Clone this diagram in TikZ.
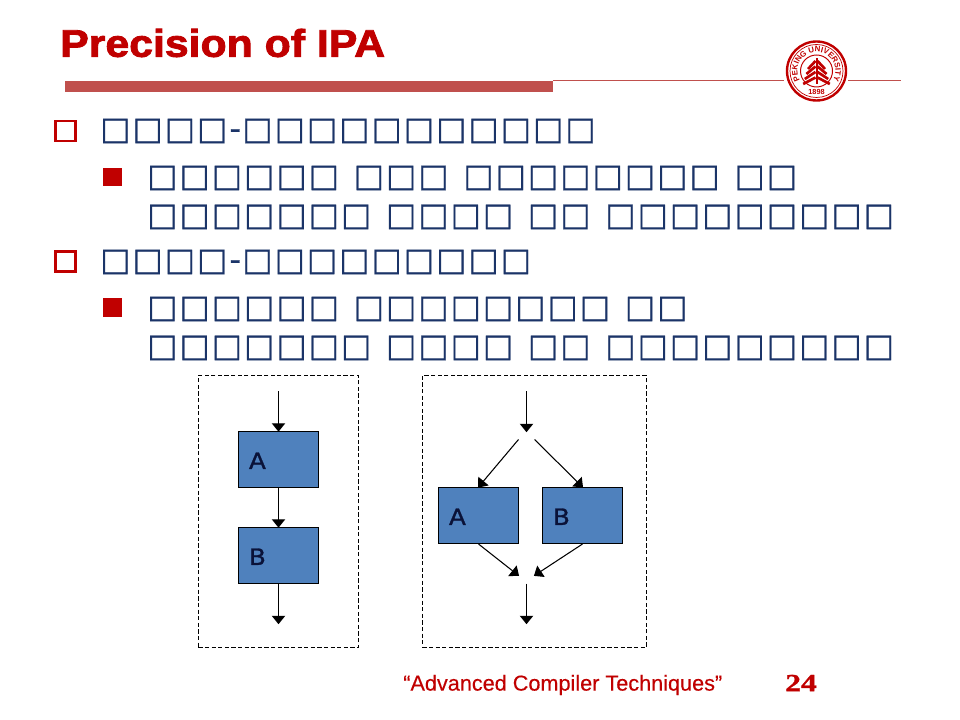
\documentclass[tikz,border=0pt]{standalone}
\usepackage{fontspec}
\setmainfont[BoldFeatures={FakeBold=2.2,FakeStretch=1.11}]{Liberation Sans}
\newfontfamily\sealfont{Liberation Sans Bold}
\newfontfamily\footfont[FakeBold=0.3]{Liberation Sans}
\newfontfamily\seriffont[FakeBold=1.2,FakeStretch=1.28]{Liberation Serif Bold}
\newfontfamily\blockfont[FakeBold=1.2,FakeStretch=1.1]{DejaVu Sans}
\newfontfamily\tofufont[LetterSpace=6.7,WordSpace=1.21,FakeBold=0.6]{DejaVu Sans}
\usetikzlibrary{arrows.meta,decorations.text}

\definecolor{slidered}{HTML}{C00000}
\definecolor{barred}{HTML}{C0504D}
\definecolor{slidenavy}{HTML}{1B3468}
\definecolor{blockblue}{HTML}{4F81BD}
\definecolor{labelnavy}{HTML}{0A1238}

\tikzset{
    tofu/.style={anchor=north west,inner sep=0pt,align=left,text=slidenavy,
        font=\tofufont\fontsize{22.7}{27.7}\selectfont},
    holebullet/.style={draw=slidered,line width=1.9pt,minimum size=14.3pt,inner sep=0pt},
    fullbullet/.style={fill=slidered,minimum size=13pt,inner sep=0pt},
    blockbox/.style={draw=black,fill=blockblue,line width=0.75pt,minimum width=56.9pt,minimum height=39.8pt,
        inner sep=0pt,text width=42pt,align=left,text height=13.4pt,text depth=0pt,text=labelnavy,
        font=\blockfont\fontsize{16}{18}\selectfont},
    flow/.style={-{Triangle[width=9.5pt,length=6pt]},line width=0.75pt,shorten >=-0.5pt},
    frame/.style={draw=black,line width=0.7pt,dash pattern=on 3pt off 1.7pt},
}

\begin{document}
\begin{tikzpicture}[x=0.025cm,y=-0.025cm]
    \useasboundingbox (0,0) rectangle (960,720);

    % header
    \node[anchor=west,inner sep=0pt,text=slidered,font=\fontsize{27.4}{30}\selectfont\bfseries] (title) at (60,43) {Precision of IPA};
    \fill[barred] (65,81) rectangle (553,92);
    \draw[barred,line width=0.8pt] (553,80.5)--(784,80.5);
    \draw[barred,line width=0.8pt] (848,80.5)--(901,80.5);

    % seal
    \draw[slidered,line width=1.7pt] (816.5,71) circle (29.5);
    \draw[slidered,line width=0.5pt] (816.5,71) circle (26.5);
    \draw[slidered,line width=0.7pt] (816.5,71) circle (16);
    \path[decorate,decoration={text along path,text align=center,
        text={|\sealfont\fontsize{5.6}{6}\selectfont\color{slidered}|PEKING UNIVERSITY}}]
        (800.5,81.4) arc[start angle=147,end angle=393,radius=19];
    \node[inner sep=0pt,text=slidered,font=\sealfont\fontsize{5.2}{6}\selectfont] (year) at (816.5,91.5) {1898};
    \fill[slidered] (815.5,58) rectangle (817.5,84);
    \foreach \i in {0,1,2,3}{
        \draw[slidered,line width=1.9pt] (815.5,61+5.5*\i)--(808-1.6*\i,69+5*\i);
        \draw[slidered,line width=1.9pt] (817.5,61+5.5*\i)--(825+1.6*\i,69+5*\i);
    }

    % text
    \node[holebullet] (b1) at (65.5,131) {};
    \node[tofu] (t1) at (100,118.5) {□□□□-\kern1pt □□□□□□□□□□□};
    \node[fullbullet] (b2) at (112.5,177) {};
    \node[tofu] (t2) at (147,165.5) {□□□□□□ □□□ □□□□□□□□ □□\\□□□□□□□ □□□□ □□ □□□□□□□□□};
    \node[holebullet] (b3) at (65.5,261.5) {};
    \node[tofu] (t3) at (100,249.5) {□□□□-\kern1pt □□□□□□□□□};
    \node[fullbullet] (b4) at (112.5,307.5) {};
    \node[tofu] (t4) at (147,296.5) {□□□□□□ □□□□□□□□ □□\\□□□□□□□ □□□□ □□ □□□□□□□□□};

    % left flow
    \node[frame,minimum width=113.8pt,minimum height=193.4pt,inner sep=0pt] (seqframe) at (278.4,511.4) {};
    \node[blockbox] (seqA) at (278.5,459.5) {A};
    \node[blockbox] (seqB) at (278.5,555.5) {B};
    \coordinate (seqin) at (278.5,391.5);
    \coordinate (seqout) at (278.5,623.5);
    \draw[flow] (seqin)--(seqA);
    \draw[flow] (seqA)--(seqB);
    \draw[flow] (seqB)--(seqout);

    % right flow
    \node[frame,minimum width=159.3pt,minimum height=193.4pt,inner sep=0pt] (parframe) at (534.4,511.4) {};
    \node[blockbox] (parA) at (478.5,515.5) {A};
    \node[blockbox] (parB) at (582.5,515.5) {B};
    \coordinate (parin) at (526.5,391.5);
    \coordinate (parsplit) at (526.5,431.5);
    \coordinate (parsplitL) at (518.5,439.5);
    \coordinate (parsplitR) at (534.5,439.5);
    \coordinate (parmergeL) at (518.5,575.5);
    \coordinate (parmergeR) at (534.5,575.5);
    \coordinate (parmerge) at (526.5,583.5);
    \coordinate (parout) at (526.5,623.5);
    \draw[flow] (parin)--(parsplit);
    \draw[flow] (parsplitL)--(parA.north);
    \draw[flow] (parsplitR)--(parB.north);
    \draw[flow] (parA.south)--(parmergeL);
    \draw[flow] (parB.south)--(parmergeR);
    \draw[flow] (parmerge)--(parout);

    % footer
    \node[anchor=west,inner sep=0pt,text=slidered,font=\footfont\fontsize{15.4}{18}\selectfont] (foot) at (403,685) {“Advanced Compiler Techniques”};
    \node[anchor=west,inner sep=0pt,text=slidered,font=\seriffont\fontsize{17.5}{20}\selectfont] (pagenum) at (785,683) {24};
\end{tikzpicture}
\end{document}
